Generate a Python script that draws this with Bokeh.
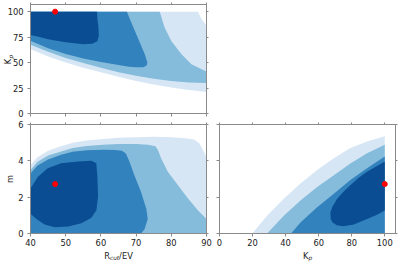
from math import pi
from bokeh.plotting import figure
from bokeh.layouts import column, row
from bokeh.models import FixedTicker, LinearAxis, Label
from bokeh.core.properties import value
from bokeh.embed import file_html
from bokeh.resources import INLINE

# ---------------- data ----------------
levels_colors = ["#d6e6f4", "#85bbdb", "#3282bd", "#0a4d92"]   # outer -> inner

# top-left panel: Rcut (x) vs Kp (y); polygons outer -> inner
rk_r1 = [40, 87.6, 88.6, 89.4, 90, 90, 85, 80, 75, 70, 65, 60, 55, 50, 45, 40]
rk_k1 = [100, 100, 92.5, 89, 86, 21, 23, 25.5, 28.5, 32, 36, 40.5, 45, 50, 56, 63.3]
rk_r2 = [40, 76.7, 78.1, 80, 82.9, 85.7, 88.6, 90, 90, 85, 80, 75, 70, 65, 60, 55, 50, 45, 40]
rk_k2 = [100, 100, 84.3, 71.2, 58.2, 48.4, 43.5, 41.2, 30, 30.5, 32, 34, 37, 40.5, 45, 49.5, 54.5, 60.5, 67.5]
rk_r3 = [40, 67.4, 68.3, 69.3, 70.5, 71.5, 72.5, 73.2, 73, 72, 70, 68, 65, 60, 55, 50, 45, 40]
rk_k3 = [100, 100, 92, 84, 74, 66, 58, 50, 47, 45.5, 45.5, 46, 47.5, 50.5, 54, 58.5, 64, 71.5]
rk_r4 = [40, 58.9, 59, 59.3, 59.4, 59, 57.5, 55, 50, 45, 42, 40]
rk_k4 = [100, 100, 93, 85, 76, 71, 68.5, 68, 70, 73, 75.5, 77]

# bottom-left panel: Rcut (x) vs m (y)
rm_r1 = [40, 42, 45, 48.7, 52, 56, 60.7, 65, 70, 75, 80, 84, 86.5, 88, 89, 90, 90, 40]
rm_m1 = [3.78, 4.2, 4.55, 4.8, 5.0, 5.12, 5.2, 5.27, 5.3, 5.32, 5.3, 5.25, 5.18, 4.95, 4.6, 4.2, 0, 0]
rm_r2 = [40, 42, 45, 48.7, 52, 56, 60.7, 65, 70, 73.3, 75.5, 76.2, 77.1, 79, 81.9, 84.8, 87.6, 90, 90, 40]
rm_m2 = [3.5, 3.95, 4.3, 4.52, 4.7, 4.82, 4.89, 4.92, 4.92, 4.88, 4.8, 4.6, 4.14, 3.4, 2.66, 1.91, 1.26, 0.8, 0, 0]
rm_r3 = [40, 42, 45, 48.7, 52, 56, 60.7, 64, 66, 67.1, 68.1, 69.5, 71.4, 72.9, 73.3, 72.4, 71.4, 40]
rm_m3 = [3.3, 3.75, 4.07, 4.33, 4.5, 4.58, 4.61, 4.6, 4.55, 4.4, 3.96, 3.21, 2.28, 1.36, 0.8, 0.24, 0, 0]
rm_r4 = [40, 42.1, 44.9, 48.7, 53.5, 57.3, 58.7, 59.0, 59.2, 58.7, 57.3, 54.5, 50.7, 46.9, 44, 41.6, 40]
rm_m4 = [2.48, 3.13, 3.59, 3.87, 3.96, 4.0, 3.87, 3.13, 2.02, 1.28, 0.87, 0.57, 0.39, 0.35, 0.5, 0.81, 1.09]

# bottom-right panel: Kp (x) vs m (y)
km_k1 = [19.8, 28.8, 38.9, 49, 59.1, 69.2, 79.2, 89.3, 100, 100]
km_m1 = [0, 0.98, 1.91, 2.75, 3.49, 4.14, 4.7, 5.07, 5.35, 0]
km_k2 = [28.8, 38.9, 49, 59.1, 69.2, 79.2, 89.3, 100, 100]
km_m2 = [0, 0.98, 1.82, 2.56, 3.21, 3.86, 4.42, 4.89, 0]
km_k3 = [43.3, 49, 59.1, 69.2, 79.2, 89.3, 100, 100]
km_m3 = [0, 0.61, 1.45, 2.19, 2.94, 3.59, 4.24, 0]
km_k4 = [100, 95, 89.3, 84, 79.2, 75, 71.2, 68.5, 67.1, 67.3, 68.5, 71, 75, 81.3, 89.3, 95, 100]
km_m4 = [3.96, 3.7, 3.4, 3.05, 2.66, 2.3, 1.91, 1.5, 1.17, 0.8, 0.6, 0.46, 0.4, 0.5, 0.8, 1.02, 1.26]

# best-fit point
best_rcut = [47]
best_kp = [100]
best_m = [2.72]

rcut_ticks = [40, 50, 60, 70, 80, 90]
kp_ticks = [0, 25, 50, 75, 100]
kp_ticks_x = [0, 20, 40, 60, 80, 100]
m_ticks = [0, 2, 4, 6]

# ---------------- styling helpers ----------------
FONT = "DejaVu Sans"
FS = "8.3px"
SUB = "5.8px"
GRAY = "#8a8a8a"
INK = "#222222"
FW = 176          # frame widths
FH = 109          # frame heights
BL = 30           # left border of the left column


def tidy_axis(ax, ticks, show, tick_out=3, standoff=2):
    ax.ticker = FixedTicker(ticks=ticks)
    ax.axis_line_color = GRAY
    ax.major_tick_line_color = GRAY
    ax.minor_tick_line_color = None
    ax.major_tick_out = tick_out
    ax.major_tick_in = 0
    ax.major_label_text_font = FONT
    if show:
        ax.major_label_standoff = standoff
        ax.major_label_text_color = INK
        ax.major_label_text_font_size = FS
    else:
        ax.major_label_standoff = 0
        ax.major_label_text_color = None
        ax.major_label_text_font_size = "1px"


def style(p, xt, yt, show_x, show_y):
    p.grid.visible = False
    p.outline_line_color = GRAY
    p.background_fill_color = "white"
    p.border_fill_color = "white"
    tidy_axis(p.xaxis[0], xt, show_x, standoff=2)
    tidy_axis(p.yaxis[0], yt, show_y, standoff=4)
    ax_top = LinearAxis()
    ax_right = LinearAxis()
    tidy_axis(ax_top, xt, False, tick_out=2)
    tidy_axis(ax_right, yt, False, tick_out=2)
    p.add_layout(ax_top, "above")
    p.add_layout(ax_right, "right")


def fig(xr, yr, bl, br, bt, bb):
    return figure(frame_width=FW, frame_height=FH, x_range=xr, y_range=yr, output_backend="svg",
                  toolbar_location=None, tools="",
                  min_border_left=bl, min_border_right=br, min_border_top=bt, min_border_bottom=bb)


def vlab(p, side, text, x, y, size=FS, style_="normal"):
    """Rotated (bottom-to-top) axis-title piece, centred on (x, y)."""
    p.add_layout(Label(x=x, y=y, text=text, angle=pi / 2,
                       text_font=FONT, text_font_size=size, text_font_style=style_,
                       text_align="center", text_baseline="middle", text_color=INK), side)


def strip(xr, bl, br):
    s = figure(frame_width=FW, frame_height=14, x_range=xr, y_range=(0, 14), output_backend="svg",
               toolbar_location=None, tools="", x_axis_type=None, y_axis_type=None,
               min_border_left=bl, min_border_right=br, min_border_top=0, min_border_bottom=0)
    s.grid.visible = False
    s.outline_line_color = None
    return s


def stext(s, x, y, t, dx, size=FS, style_="normal"):
    s.text(x=[x], y=[y], text=[t], x_offset=dx, text_font=value(FONT), text_font_size=value(size),
           text_font_style=style_, text_align="left", text_baseline="alphabetic", text_color=INK)


# ---------------- top-left: Kp vs Rcut ----------------
p1 = fig((40, 90), (0, 107), BL, 20, 4, 7)
for xs, ys, c in zip((rk_r1, rk_r2, rk_r3, rk_r4), (rk_k1, rk_k2, rk_k3, rk_k4), levels_colors):
    p1.patch(xs, ys, fill_color=c, line_color=None)
p1.scatter(best_rcut, best_kp, size=5, color="red")
style(p1, rcut_ticks, kp_ticks, False, True)
# axis title kept in the (empty) right panel so it does not widen the left border
vlab(p1, "right", "K", 33.47, 51.0)
vlab(p1, "right", "p", 34.32, 55.7, size=SUB, style_="italic")

# ---------------- bottom-left: m vs Rcut ----------------
p2 = fig(p1.x_range, (0, 6), BL, 6, 4, 15)
for xs, ys, c in zip((rm_r1, rm_r2, rm_r3, rm_r4), (rm_m1, rm_m2, rm_m3, rm_m4), levels_colors):
    p2.patch(xs, ys, fill_color=c, line_color=None)
p2.scatter(best_rcut, best_m, size=5, color="red")
style(p2, rcut_ticks, m_ticks, True, True)
vlab(p2, "left", "m", 34.1, 3)

# ---------------- bottom-right: m vs Kp ----------------
p3 = fig((0, 106.5), p2.y_range, 7, 4, 4, 15)
for xs, ys, c in zip((km_k1, km_k2, km_k3, km_k4), (km_m1, km_m2, km_m3, km_m4), levels_colors):
    p3.patch(xs, ys, fill_color=c, line_color=None)
p3.scatter(best_kp, best_m, size=5, color="red")
style(p3, kp_ticks_x, m_ticks, True, False)

# ---------------- x-axis titles (with subscripts) ----------------
s2 = strip(p2.x_range, BL, 6)
stext(s2, 65, 7, "R", -14.3)
stext(s2, 65, 5, "cut", -8.5, size=SUB, style_="italic")
stext(s2, 65, 7, "/EV", 0.6)

s3 = strip(p3.x_range, 7, 4)
stext(s3, 53.25, 7, "K", -4.6)
stext(s3, 53.25, 5, "p", 0.9, size=SUB, style_="italic")

layout = column(p1, row(p2, p3), row(s2, s3))

open("out.html", "w").write(file_html(layout, INLINE))
